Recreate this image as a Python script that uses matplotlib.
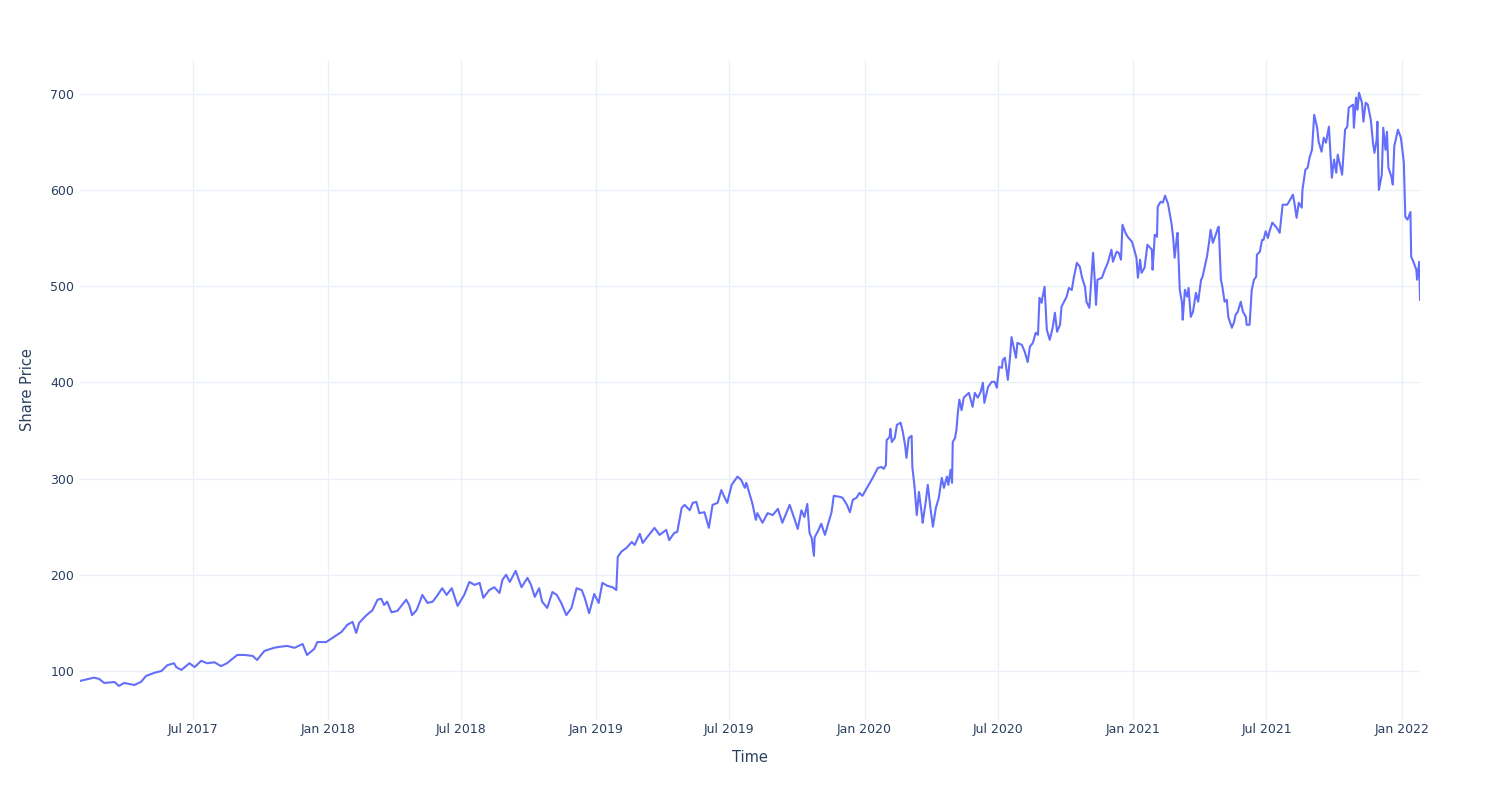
import matplotlib
matplotlib.use("Agg")
import matplotlib.pyplot as plt
import matplotlib.dates as mdates
import pandas as pd

# days since 2017-01-01 and the share price
day = [
    27, 46, 53, 60, 74, 80, 87, 101, 110, 117, 128, 138, 146, 155, 158, 165, 176, 183,
    192, 200, 210, 219, 227, 241, 251, 262, 268, 278, 291, 298, 309, 319, 330, 336,
    346, 350, 362, 370, 383, 391, 398, 403, 407, 417, 425, 432, 437, 441, 445, 451,
    459, 471, 475, 479, 485, 489, 493, 500, 507, 513, 520, 526, 533, 541, 550, 557,
    564, 571, 576, 584, 591, 598, 602, 607, 612, 620, 628, 636, 641, 646, 652, 656,
    663, 670, 676, 682, 689, 696, 703, 710, 714, 720, 727, 733, 738, 745, 752, 757,
    759, 764, 771, 778, 782, 789, 793, 799, 809, 816, 825, 829, 836, 840, 846, 850,
    857, 861, 866, 870, 877, 883, 888, 895, 900, 904, 908, 914, 922, 927, 932, 934,
    938, 942, 947, 949, 956, 963, 970, 977, 983, 993, 1000, 1004, 1009, 1013, 1017,
    1020, 1023, 1026, 1027, 1031, 1036, 1041, 1045, 1050, 1053, 1061, 1065, 1071,
    1075, 1079, 1084, 1088, 1092, 1098, 1106, 1113, 1118, 1121, 1124, 1125, 1129,
    1130, 1132, 1136, 1139, 1144, 1147, 1150, 1152, 1155, 1159, 1160, 1163, 1166,
    1169, 1173, 1174, 1178, 1181, 1185, 1188, 1192, 1196, 1200, 1203, 1207, 1209,
    1212, 1214, 1215, 1218, 1220, 1222, 1224, 1227, 1230, 1234, 1237, 1242, 1245,
    1249, 1253, 1256, 1258, 1263, 1268, 1272, 1275, 1278, 1282, 1283, 1286, 1290,
    1293, 1295, 1298, 1301, 1303, 1309, 1313, 1317, 1320, 1324, 1328, 1331, 1333,
    1336, 1337, 1340, 1343, 1347, 1351, 1354, 1357, 1361, 1363, 1370, 1373, 1377,
    1380, 1384, 1388, 1391, 1395, 1397, 1401, 1406, 1408, 1410, 1412, 1418, 1422,
    1426, 1431, 1433, 1438, 1441, 1444, 1446, 1450, 1453, 1459, 1461, 1465, 1467,
    1470, 1472, 1476, 1480, 1486, 1487, 1490, 1493, 1494, 1498, 1501, 1504, 1508,
    1513, 1515, 1517, 1520, 1521, 1524, 1527, 1528, 1531, 1534, 1536, 1539, 1542,
    1546, 1549, 1553, 1555, 1561, 1564, 1566, 1569, 1573, 1576, 1577, 1580, 1582,
    1585, 1588, 1590, 1595, 1598, 1600, 1603, 1607, 1610, 1614, 1615, 1619, 1622,
    1625, 1628, 1629, 1633, 1636, 1638, 1641, 1644, 1646, 1650, 1656, 1660, 1664,
    1670, 1672, 1678, 1680, 1683, 1686, 1690, 1691, 1695, 1698, 1701, 1704, 1707,
    1711, 1713, 1717, 1720, 1723, 1727, 1731, 1734, 1737, 1739, 1745, 1749, 1752,
    1754, 1760, 1761, 1764, 1766, 1768, 1772, 1774, 1777, 1780, 1784, 1787, 1789,
    1792, 1793, 1795, 1799, 1801, 1804, 1806, 1808, 1812, 1814, 1816, 1821, 1825,
    1827, 1829, 1830, 1831, 1834, 1838, 1839, 1842, 1846, 1847, 1850, 1851,
]
price = [
    89.6, 93, 91.7, 87.5, 88.5, 84.4, 87.5, 85.4, 88.6, 94.8, 98, 100, 106, 108, 104, 101, 108, 104,
    110.5, 108, 109, 105, 108, 116.6, 116.6, 115.6, 111.4, 120.8, 124, 125, 126, 124, 128, 116.6,
    123, 130, 130, 134, 140.6, 148, 151, 139.5, 150, 158, 163, 174, 175, 168.6, 172, 161,
    162.4, 174, 168.6, 158, 163, 170.7, 179, 170.7, 172, 178, 186, 179, 186, 167.6, 179, 192.5,
    189.4, 191.5, 176, 184, 187, 181, 194.6, 200, 192.5, 204, 187, 196.7, 189.4, 177, 186, 172,
    165.5, 182, 179, 170.7, 158, 165.5, 186, 184, 176, 160, 180, 170.7, 191.5, 188.4, 187, 184,
    218.5, 224, 228, 234, 231, 242.5, 233, 239, 248.7, 241.4, 246.6, 236, 243.5, 244.5, 269.5, 272.6,
    267, 274.7, 275.7, 264, 265, 248.7, 272.6, 274.7, 288, 281, 274.7, 293.4, 302, 298.6, 290.3, 295.5,
    285, 274.7, 257, 264, 254, 264, 262, 268.5, 254, 272.6, 257, 247.6, 267, 260, 273.6,
    243.5, 238, 219.6, 239, 244.5, 253, 241.4, 252, 265, 282, 281, 280, 272.6,
    265, 278, 280, 285, 282, 290, 300.7, 311, 312, 310, 314, 340, 343,
    351.6, 338, 342, 355.8, 358, 348.5, 335, 321.5, 342, 344.4, 312, 291.3, 262,
    286, 262, 254, 274.7, 293.4, 267, 250, 269.5, 280, 300.7, 290.3, 302, 293.4,
    309, 295.5, 338, 342, 350.6, 369, 382, 371, 384, 387, 389, 374.5, 389,
    384, 390, 399.5, 378.7, 395, 400.5, 400.5, 394.3, 416, 415, 423, 425.5, 402.6,
    426.5, 447, 436, 425.5, 441, 439, 431.7, 421, 437, 441, 451.5, 449.4, 487.8,
    482.6, 487.8, 499.3, 454.6, 444.2, 456.7, 472.3, 452.5, 459.8, 478.5, 489, 498, 496,
    509.7, 524.2, 520, 508.7, 499.3, 483.7, 477.4, 534.6, 509.7, 480.5, 506.6, 508.7, 517,
    524.2, 537.8, 525.3, 535.7, 534.6, 527.4, 563.8, 555.4, 551.3, 546, 540.9, 529.4, 508.7,
    527.4, 513.8, 519, 543, 537.8, 517, 553.4, 551.3, 582.5, 587.7, 586.7, 594, 585.6,
    563.8, 550.3, 529.4, 550.3, 555.4, 496.2, 482.6, 465, 496.2, 489, 498, 468, 473.3,
    493, 483.7, 506.6, 509.7, 530.5, 546, 558.5, 545, 553.4, 560.6, 561.7, 506.6, 499.3,
    483.7, 485.8, 468, 456.7, 462.9, 470.2, 473.3, 483.7, 473.3, 468, 459.8, 459.8, 496.2,
    506.6, 509.7, 532.6, 535.7, 548, 548, 557, 550, 556.5, 566, 560.6, 555.4, 584.6,
    584.6, 586.7, 595, 586.7, 571, 586.7, 581.5, 600, 621, 623, 634.5, 641.7, 678,
    664.6, 650, 639.7, 654.2, 649, 665.7, 612.7, 631.4, 617.9, 636.6, 615.8, 662.5, 665.7,
    685.4, 688.6, 664.6, 695.9, 683.3, 701, 690.6, 670.9, 690.6, 688.6, 673, 649, 638.6,
    652.2, 670.9, 600, 615.8, 664.6, 641.7, 660.4, 623, 613.8, 605.5, 645.5, 662.5, 654.2,
    641.7, 628.2, 600, 572, 569, 577, 530.5, 525.3, 517, 506.6, 525.3, 485.8,
]

dates = pd.Timestamp("2017-01-01") + pd.to_timedelta(day, unit="D")

text_color = "#2a3f5f"
grid_color = "#EBF0F8"

fig = plt.figure(figsize=(15, 8), dpi=100)
ax = fig.add_axes([80 / 1500, 80 / 800, 1340 / 1500, 660 / 800])

ax.plot(dates, price, color="#636EFA", linewidth=1.5)

ax.set_xlim(dates[0], dates[-1])
ax.set_ylim(49, 735)
ax.set_yticks([100, 200, 300, 400, 500, 600, 700])

ax.xaxis.set_major_locator(mdates.MonthLocator(bymonth=[1, 7]))
ax.xaxis.set_major_formatter(mdates.DateFormatter("%b %Y"))

ax.grid(True, color=grid_color, linewidth=1)
ax.set_axisbelow(True)
for spine in ax.spines.values():
    spine.set_visible(False)
ax.tick_params(axis="both", length=0, labelsize=9, labelcolor=text_color)
ax.tick_params(axis="x", pad=2)
ax.tick_params(axis="y", pad=4)

ax.set_xlabel("Time", fontsize=10.5, color=text_color, labelpad=10)
ax.set_ylabel("Share Price", fontsize=10.5, color=text_color, labelpad=11)

fig.savefig("out.png", dpi=100, facecolor="white")
